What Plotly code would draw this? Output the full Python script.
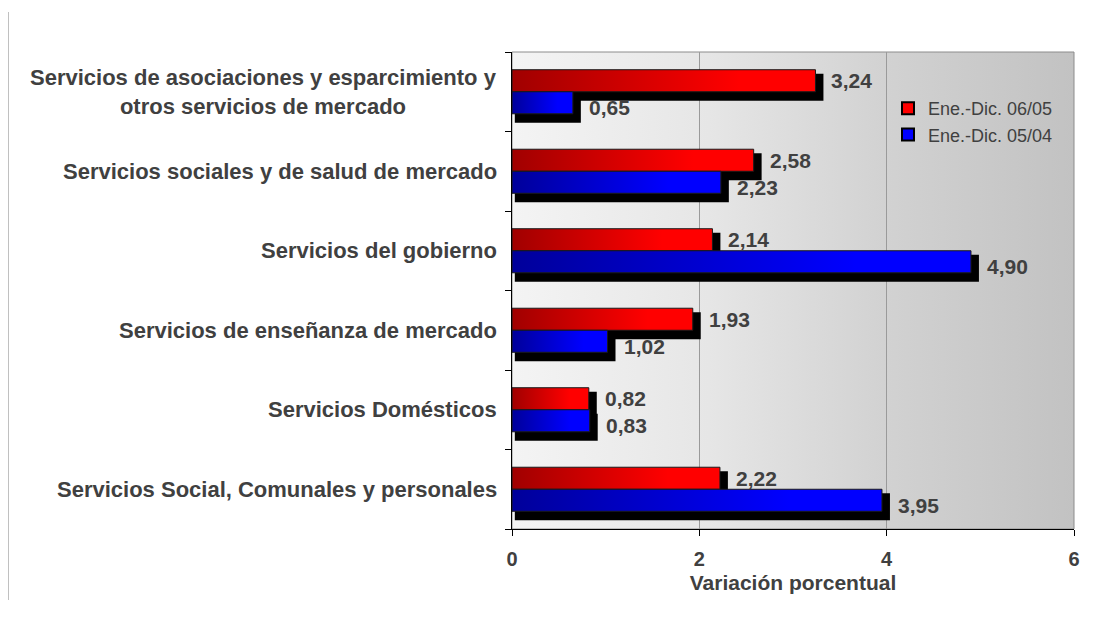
import base64

import plotly.graph_objects as go

categories = [
    "Servicios de asociaciones y esparcimiento y<br>otros servicios de mercado",
    "Servicios sociales y de salud de mercado",
    "Servicios del gobierno",
    "Servicios de enseñanza de mercado",
    "Servicios Domésticos",
    "Servicios Social, Comunales y personales",
]
series_names = ["Ene.-Dic. 06/05", "Ene.-Dic. 05/04"]
values_0605 = [3.24, 2.58, 2.14, 1.93, 0.82, 2.22]
values_0504 = [0.65, 2.23, 4.90, 1.02, 0.83, 3.95]
x_ticks = [0, 2, 4, 6]

FONT = "Liberation Sans, Arial, sans-serif"
TEXT = "#404040"
BAR_W = 0.277          # bar thickness, in category units
SHADOW_DX = 0.085      # shadow shift along value axis
SHADOW_TOP = 0.05      # shadow starts a bit below the bar top
SHADOW_EXTRA = 0.063   # ...and ends a bit lower than the bar bottom

styles = [
    {"offset": -BAR_W, "dark": "#a00000", "bright": "#ff0000", "label_dy": 0.0},
    {"offset": 0.0, "dark": "#00009a", "bright": "#0000ff", "label_dy": 0.06},
]


def fmt(v):
    return f"{v:.2f}".replace(".", ",")


def gradient_uri():
    svg = (
        '<svg xmlns="http://www.w3.org/2000/svg" width="200" height="10" '
        'viewBox="0 0 200 10" preserveAspectRatio="none">'
        '<defs><linearGradient id="g" x1="0" x2="1" y1="0" y2="0">'
        '<stop offset="0" stop-color="#f4f4f4"/>'
        '<stop offset="0.35" stop-color="#e6e6e6"/>'
        '<stop offset="0.66" stop-color="#d2d2d2"/>'
        '<stop offset="1" stop-color="#c2c2c2"/>'
        "</linearGradient></defs>"
        '<rect width="200" height="10" fill="url(#g)"/></svg>'
    )
    return "data:image/svg+xml;base64," + base64.b64encode(svg.encode()).decode()


fig = go.Figure()
positions = list(range(len(categories)))

for series, name, st in zip([values_0605, values_0504], series_names, styles):
    # drop shadow
    fig.add_trace(
        go.Bar(
            y=positions,
            x=[v + SHADOW_DX - 0.03 for v in series],
            base=0.03,
            orientation="h",
            width=BAR_W + SHADOW_EXTRA,
            offset=st["offset"] + SHADOW_TOP,
            marker=dict(color="black", line=dict(width=0)),
            showlegend=False,
            hoverinfo="skip",
        )
    )
    # gradient-filled bars
    for pos, v in zip(positions, series):
        top = pos + st["offset"]
        bottom = top + BAR_W
        fig.add_trace(
            go.Scatter(
                x=[0, v, v, 0, 0],
                y=[top, top, bottom, bottom, top],
                mode="lines",
                fill="toself",
                fillgradient=dict(
                    type="horizontal",
                    colorscale=[[0, st["dark"]], [0.75, st["bright"]], [1, st["bright"]]],
                ),
                line=dict(color="#1a1a1a", width=1),
                showlegend=False,
                hoverinfo="skip",
            )
        )
    # legend entry
    fig.add_trace(
        go.Bar(
            x=[None],
            y=[None],
            orientation="h",
            name=name,
            marker=dict(color=st["bright"], line=dict(color="black", width=2)),
        )
    )

# value labels, just past the shadow's end
for series, st in zip([values_0605, values_0504], styles):
    for pos, v in zip(positions, series):
        fig.add_annotation(
            x=v + SHADOW_DX,
            y=pos + st["offset"] + BAR_W / 2 + st["label_dy"],
            xref="x",
            yref="y",
            text=fmt(v),
            showarrow=False,
            xanchor="left",
            yanchor="middle",
            xshift=6,
            font=dict(family=FONT, size=21, color=TEXT, weight="bold"),
        )

# category labels, centred multi-line like the original
for pos, cat in zip(positions, categories):
    fig.add_annotation(
        x=0,
        y=pos,
        xref="x",
        yref="y",
        text=cat,
        showarrow=False,
        xanchor="right",
        yanchor="middle",
        xshift=-13,
        align="center",
        font=dict(family=FONT, size=22, color=TEXT, weight="bold"),
    )

# the page body adds an 8px offset, so the figure is laid out 8px smaller
page_w, page_h, body = 1098, 621, 8
plot_l, plot_r, plot_t, plot_b = 512 - body, 1074 - body, 52 - body, 529 - body
fig_w, fig_h = page_w - body, page_h - body
pw, ph = plot_r - plot_l, plot_b - plot_t

fig.update_layout(
    width=fig_w,
    height=fig_h,
    margin=dict(l=plot_l, r=fig_w - plot_r, t=plot_t, b=fig_h - plot_b),
    paper_bgcolor="white",
    plot_bgcolor="#dcdcdc",
    barmode="overlay",
    font=dict(family=FONT, color=TEXT),
    images=[
        dict(
            source=gradient_uri(),
            xref="paper",
            yref="paper",
            x=0,
            y=1,
            sizex=1,
            sizey=1,
            sizing="stretch",
            xanchor="left",
            yanchor="top",
            layer="below",
        )
    ],
    shapes=[
        dict(
            type="rect", xref="paper", yref="paper", x0=0, x1=1, y0=0, y1=1,
            line=dict(color="#8c8c8c", width=1), layer="below",
        ),
        dict(
            type="line", xref="paper", yref="paper",
            x0=(8 - body - plot_l) / pw, x1=(8 - body - plot_l) / pw,
            y0=(plot_b - (600 - body)) / ph, y1=(plot_b - (12 - body)) / ph,
            line=dict(color="#c0c0c0", width=2),
        ),
    ],
    legend=dict(
        x=(888 - body - plot_l) / pw,
        y=(plot_b - (90 - body)) / ph,
        xanchor="left",
        yanchor="top",
        bgcolor="rgba(0,0,0,0)",
        borderwidth=0,
        font=dict(family=FONT, size=18, color=TEXT),
        traceorder="normal",
        tracegroupgap=0,
        itemwidth=30,
    ),
    xaxis=dict(
        range=[0, 6],
        tickvals=x_ticks,
        ticktext=[str(t) for t in x_ticks],
        ticks="outside",
        ticklen=6,
        tickcolor="black",
        ticklabelstandoff=6,
        showline=True,
        linecolor="black",
        linewidth=1,
        showgrid=True,
        gridcolor="#9a9a9a",
        gridwidth=1,
        zeroline=False,
        tickfont=dict(family=FONT, size=20, color=TEXT, weight="bold"),
        title=dict(
            text="Variación porcentual",
            font=dict(family=FONT, size=21, color=TEXT, weight="bold"),
            standoff=6,
        ),
    ),
    yaxis=dict(
        range=[len(categories) - 0.5, -0.5],
        tickmode="array",
        tickvals=[p - 0.5 for p in positions] + [len(categories) - 0.5],
        ticktext=[""] * (len(categories) + 1),
        ticks="outside",
        ticklen=6,
        tickcolor="black",
        showline=True,
        linecolor="black",
        linewidth=1,
        showgrid=False,
        zeroline=False,
    ),
)

fig.write_html("out.html")
